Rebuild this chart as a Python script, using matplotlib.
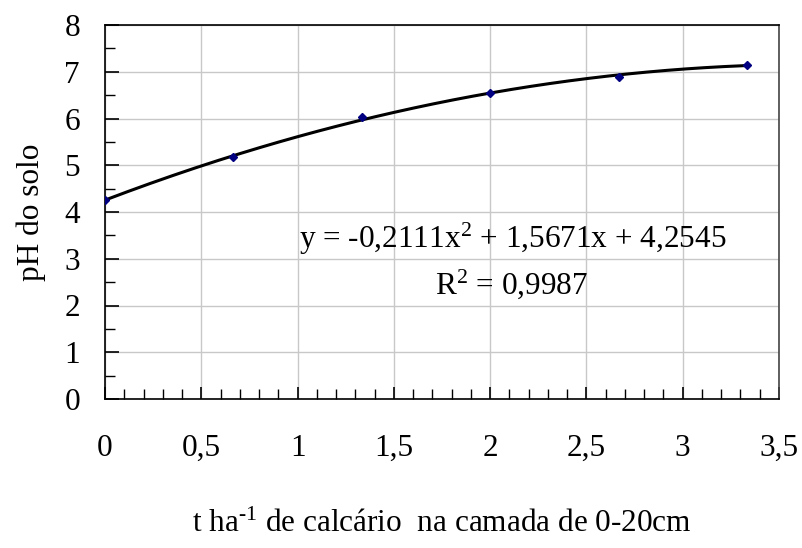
import numpy as np
import matplotlib
matplotlib.use("Agg")
import matplotlib.pyplot as plt
from matplotlib.ticker import MultipleLocator, FuncFormatter

plt.rcParams['font.family'] = ['Liberation Serif', 'DejaVu Serif']
plt.rcParams['mathtext.fontset'] = 'custom'
plt.rcParams['mathtext.rm'] = 'Liberation Serif'
plt.rcParams['mathtext.it'] = 'Liberation Serif:italic'
plt.rcParams['mathtext.default'] = 'regular'

# lime doses (t/ha) and measured soil pH
doses = [0.0, 0.667, 1.333, 2.0, 2.667, 3.333]
ph_values = [4.25, 5.18, 6.03, 6.55, 6.88, 7.15]

# quadratic trendline coefficients (a x^2 + b x + c) and fit quality
coef_a, coef_b, coef_c = -0.2111, 1.5671, 4.2545
r_squared = 0.9987

FS = 22.5

fig = plt.figure(figsize=(8.02, 5.48), dpi=100)
ax = fig.add_axes([105 / 802, 149 / 548, 674 / 802, 374 / 548])

xs = np.linspace(min(doses), max(doses), 200)
ax.plot(xs, coef_a * xs**2 + coef_b * xs + coef_c, color='black', lw=2.2, zorder=3)
ax.plot(doses, ph_values, linestyle='none', marker='D', markersize=4,
        color='#000080', zorder=4)

ax.set_xlim(0, 3.5)
ax.set_ylim(0, 8)
ax.xaxis.set_major_locator(MultipleLocator(0.5))
ax.xaxis.set_minor_locator(MultipleLocator(0.1))
ax.yaxis.set_major_locator(MultipleLocator(1))
ax.yaxis.set_minor_locator(MultipleLocator(0.5))

def comma_fmt(v, pos):
    s = f"{v:g}"
    return s.replace('.', ',')

ax.xaxis.set_major_formatter(FuncFormatter(comma_fmt))
ax.yaxis.set_major_formatter(FuncFormatter(comma_fmt))

ax.grid(True, which='major', color='#c8c8c8', lw=1.0)
ax.set_axisbelow(True)

ax.tick_params(axis='x', which='major', direction='in', length=9, width=1.2,
               labelsize=FS, pad=25)
ax.tick_params(axis='x', which='minor', direction='in', length=7, width=1.0)
ax.tick_params(axis='y', which='major', direction='in', length=10, width=1.2,
               labelsize=FS, pad=18)
ax.tick_params(axis='y', which='minor', direction='in', length=7, width=1.0)

for side in ['left', 'bottom', 'top']:
    ax.spines[side].set_color('black')
    ax.spines[side].set_linewidth(1.2)
ax.spines['right'].set_color('#444444')
ax.spines['right'].set_linewidth(1.2)

ax.set_ylabel('pH do solo', fontsize=FS, labelpad=13)
ax.set_xlabel('t ha$^{\\text{-1}}$ de calcário  na camada de 0-20cm', fontsize=FS,
              labelpad=34)

eq_text = (f"y = {coef_a:.4f}x$^{{2}}$ + {coef_b:.4f}x + {coef_c:.4f}"
           .replace('.', ','))
r2_text = f"R$^{{2}}$ = {r_squared:.4f}".replace('.', ',')
ax.text(2.12, 3.23, eq_text, fontsize=FS, ha='center', va='baseline')
ax.text(2.11, 2.25, r2_text, fontsize=FS, ha='center', va='baseline')

fig.savefig('out.png', dpi=100)
